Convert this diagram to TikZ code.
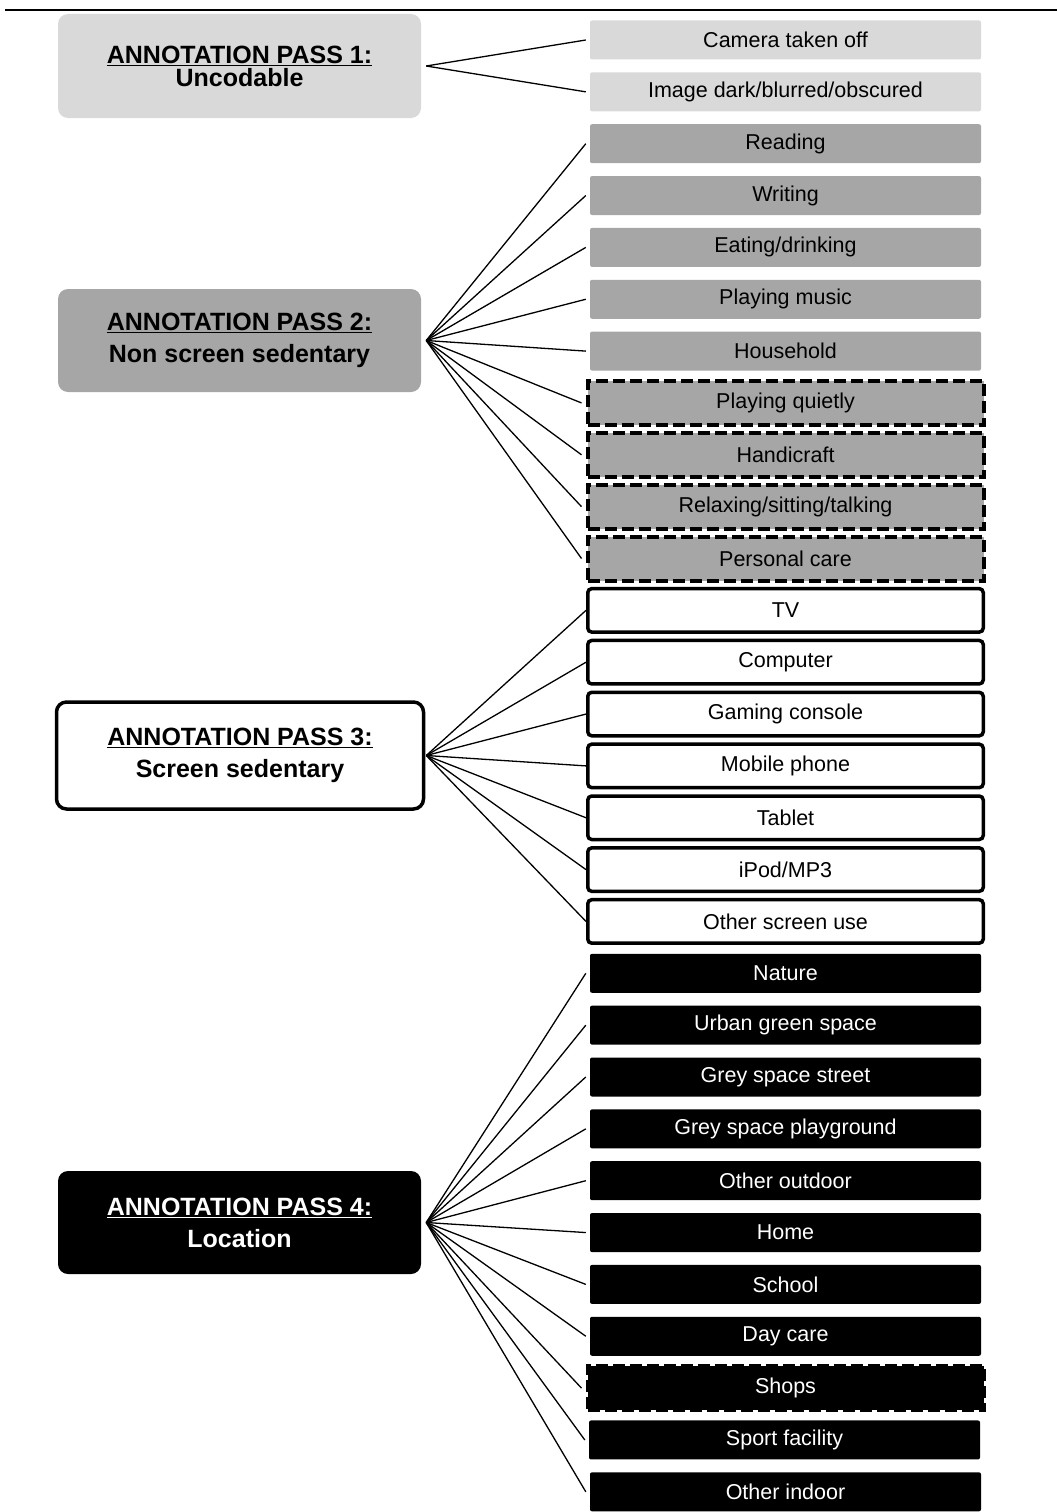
\documentclass[tikz,border=0pt]{standalone}
\usepackage{fontspec}
\setmainfont{Liberation Sans}
\definecolor{lgrey}{HTML}{D9D9D9}
\definecolor{dgrey}{HTML}{A6A6A6}
\begin{document}
\begin{tikzpicture}[x=1pt,y=-1pt,
  item/.style={minimum width=391pt,minimum height=39pt,inner sep=0pt,rounded corners=2pt,
    font=\fontsize{21.5}{24}\selectfont},
  lgbox/.style={item,fill=lgrey},
  dgbox/.style={item,fill=dgrey},
  dgdash/.style={item,fill=dgrey,draw=black,line width=4pt,dash pattern=on 12pt off 5pt,
    minimum width=396pt,minimum height=44pt,rounded corners=0pt},
  wbox/.style={item,fill=white,draw=black,line width=3.5pt,rounded corners=4pt,
    minimum width=395.5pt,minimum height=43.5pt},
  bkbox/.style={item,fill=black,text=white},
  bkdash/.style={item,fill=black,text=white,draw=black,line width=4pt,dash pattern=on 12pt off 5pt,
    minimum width=396pt,minimum height=44pt,rounded corners=0pt},
  pass/.style={minimum width=363pt,minimum height=103pt,rounded corners=10pt,inner sep=0pt,align=center,
    font=\fontsize{25}{27}\selectfont\bfseries},
  conn/.style={line width=1.3pt,black}
]
\useasboundingbox (0,0) rectangle (1057,1512);
\draw[line width=2pt] (5,10) -- (1057,10);

% left pass boxes
\node[pass,fill=lgrey,minimum height=104pt] (p1) at (239.5,66) {\underline{ANNOTATION PASS 1:}\\[-4pt]Uncodable};
\node[pass,fill=dgrey] (p2) at (239.5,340.5) {\underline{ANNOTATION PASS 2:}\\[5pt]Non screen sedentary};
\node[pass,fill=white,draw=black,line width=3.5pt,minimum width=367pt,minimum height=107pt] (p3) at (240,755.5) {\underline{ANNOTATION PASS 3:}\\[5pt]Screen sedentary};
\node[pass,fill=black,text=white] (p4) at (239.5,1222.5) {\underline{ANNOTATION PASS 4:}\\[5pt]Location};

% right item boxes
\node[lgbox] (r1) at (785.5,40) {Camera taken off};
\node[lgbox] (r2) at (785.5,91.85) {Image dark/blurred/obscured};
\node[dgbox] (r3) at (785.5,143.7) {Reading};
\node[dgbox] (r4) at (785.5,195.55) {Writing};
\node[dgbox] (r5) at (785.5,247.4) {Eating/drinking};
\node[dgbox] (r6) at (785.5,299.25) {Playing music};
\node[dgbox] (r7) at (785.5,351.1) {Household};
\node[dgdash] (r8) at (785.5,402.95) {Playing quietly};
\node[dgdash] (r9) at (785.5,454.8) {Handicraft};
\node[dgdash] (r10) at (785.5,506.65) {Relaxing/sitting/talking};
\node[dgdash] (r11) at (785.5,558.5) {Personal care};
\node[wbox] (r12) at (785.5,610.35) {TV};
\node[wbox] (r13) at (785.5,662.2) {Computer};
\node[wbox] (r14) at (785.5,714.05) {Gaming console};
\node[wbox] (r15) at (785.5,765.9) {Mobile phone};
\node[wbox] (r16) at (785.5,817.75) {Tablet};
\node[wbox] (r17) at (785.5,869.6) {iPod/MP3};
\node[wbox] (r18) at (785.5,921.45) {Other screen use};
\node[bkbox] (r19) at (785.5,973.3) {Nature};
\node[bkbox] (r20) at (785.5,1025.15) {Urban green space};
\node[bkbox] (r21) at (785.5,1077) {Grey space street};
\node[bkbox] (r22) at (785.5,1128.85) {Grey space playground};
\node[bkbox] (r23) at (785.5,1180.7) {Other outdoor};
\node[bkbox] (r24) at (785.5,1232.55) {Home};
\node[bkbox] (r25) at (785.5,1284.4) {School};
\node[bkbox] (r26) at (785.5,1336.25) {Day care};
\node[bkdash] (r27) at (785.5,1388.1) {Shops};
\node[bkbox] (r28) at (784.5,1439.95) {Sport facility};
\node[bkbox] (r29) at (785.5,1491.8) {Other indoor};

% connectors
\foreach \i in {1,2} \draw[conn] ([xshift=5pt]p1.east) -- ([xshift=-4pt]r\i.west);
\foreach \i in {3,...,11} \draw[conn] ([xshift=5pt]p2.east) -- ([xshift=-4pt]r\i.west);
\foreach \i in {12,...,18} \draw[conn] ([xshift=1pt]p3.east) -- (r\i.west);
\foreach \i in {19,...,29} \draw[conn] ([xshift=5pt]p4.east) -- ([xshift=-4pt]r\i.west);
\end{tikzpicture}
\end{document}
